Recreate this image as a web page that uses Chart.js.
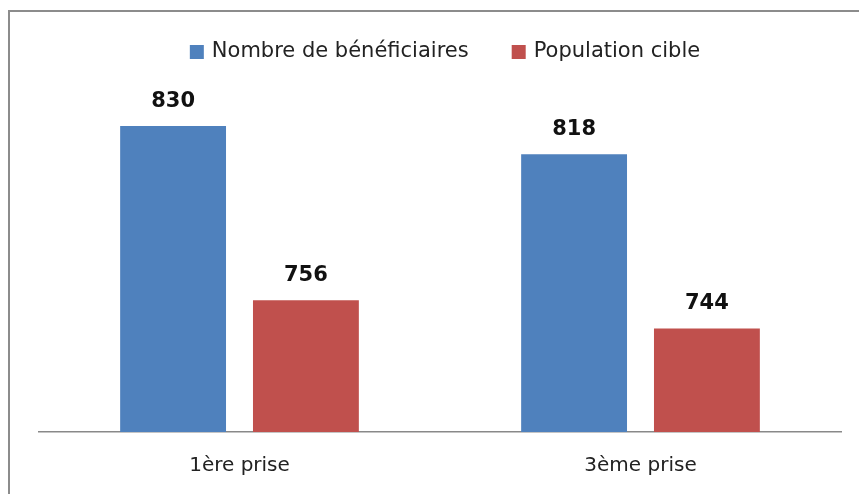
<!DOCTYPE html>
<html>
<head>
<meta charset="utf-8">
<script src="https://cdn.jsdelivr.net/npm/chart.js@4/dist/chart.umd.min.js"></script>
<style>
  html, body { margin: 0; padding: 0; background: #fff; }
  #wrap { position: relative; width: 859px; height: 494px; }
</style>
</head>
<body>
<div id="wrap"><canvas id="c" width="859" height="494"></canvas></div>
<script>
const categories = ['1ère prise', '3ème prise'];
const beneficiaires = [830, 818];
const populationCible = [756, 744];
const seriesNames = ['Nombre de bénéficiaires', 'Population cible'];
const yMin = 700;
const yMax = 850;

const FONT = '"DejaVu Sans", sans-serif';

// white background + the grey frame of the original picture
const framePlugin = {
    id: 'frame',
    beforeDraw(chart) {
        const c = chart.ctx;
        c.save();
        c.fillStyle = '#fff';
        c.fillRect(0, 0, chart.width, chart.height);
        c.strokeStyle = '#8c8c8c';
        c.lineWidth = 2;
        c.beginPath();
        c.moveTo(chart.width, 11);
        c.lineTo(9, 11);
        c.lineTo(9, chart.height);
        c.stroke();
        c.restore();
    }
};

// legend drawn by hand so the spacing matches
const legendPlugin = {
    id: 'topLegend',
    afterDraw(chart) {
        const c = chart.ctx;
        c.save();
        c.font = '21px ' + FONT;
        c.textBaseline = 'middle';
        const box = 14, gap = 8, between = 43;
        const items = chart.data.datasets.map(ds => ({ text: ds.label, color: ds.backgroundColor }));
        let total = 0;
        items.forEach((it, i) => {
            total += box + gap + c.measureText(it.text).width;
            if (i < items.length - 1) total += between;
        });
        let x = 445 - total / 2;
        const y = 52;
        items.forEach(it => {
            c.fillStyle = it.color;
            c.fillRect(x, y - 7, box, box);
            x += box + gap;
            c.fillStyle = '#222';
            c.fillText(it.text, x, y);
            x += c.measureText(it.text).width + between;
        });
        c.restore();
    }
};

// value labels above each bar
const valueLabels = {
    id: 'valueLabels',
    afterDatasetsDraw(chart) {
        const c = chart.ctx;
        c.save();
        c.font = 'bold 21px ' + FONT;
        c.fillStyle = '#111';
        c.textAlign = 'center';
        c.textBaseline = 'middle';
        chart.data.datasets.forEach((ds, i) => {
            chart.getDatasetMeta(i).data.forEach((bar, j) => {
                c.fillText(ds.data[j], bar.x, bar.y - 25);
            });
        });
        c.restore();
    }
};

new Chart(document.getElementById('c'), {
    type: 'bar',
    data: {
        labels: categories,
        datasets: [
            { label: seriesNames[0], data: beneficiaires, backgroundColor: '#4F81BD' },
            { label: seriesNames[1], data: populationCible, backgroundColor: '#C0504D' }
        ]
    },
    options: {
        responsive: false,
        animation: false,
        devicePixelRatio: 1,
        layout: { padding: { left: 39, right: 18, top: 79, bottom: 0 } },
        plugins: {
            legend: { display: false },
            tooltip: { enabled: false }
        },
        datasets: {
            bar: { categoryPercentage: 0.6625, barPercentage: 0.797 }
        },
        scales: {
            x: {
                grid: { display: false, drawTicks: false },
                border: { display: true, color: '#898989', width: 1.5 },
                ticks: { color: '#222', font: { family: FONT, size: 20 }, padding: 22 },
                afterFit(scale) { scale.height = 62; }
            },
            y: {
                display: false,
                min: yMin,
                max: yMax
            }
        }
    },
    plugins: [framePlugin, legendPlugin, valueLabels]
});
</script>
</body>
</html>
